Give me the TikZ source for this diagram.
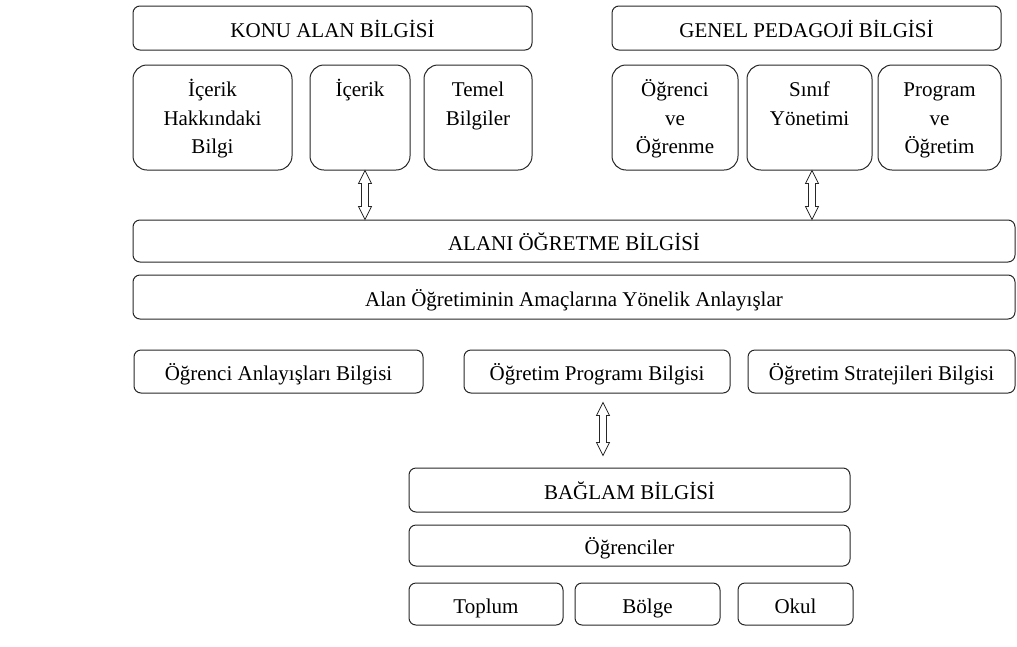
\documentclass[tikz,border=0pt]{standalone}
\usepackage{fontspec}
\setmainfont{Liberation Serif}
\usetikzlibrary{calc}
\newcommand\dblarrow[2]{%
  \draw[arrowshape] let \p1=(#1), \p2=(#2) in
    (\x1,\y1) -- (\x1+6.5pt,\y1-13pt) -- (\x1+3.5pt,\y1-13pt) -- (\x1+3.5pt,\y2+13pt)
    -- (\x1+6.5pt,\y2+13pt) -- (\x1,\y2) -- (\x1-6.5pt,\y2+13pt) -- (\x1-3.5pt,\y2+13pt)
    -- (\x1-3.5pt,\y1-13pt) -- (\x1-6.5pt,\y1-13pt) -- cycle;}
\tikzset{
  txt/.style={font=\fontsize{21}{28.5}\selectfont},
  box/.style={txt, draw=black!85, line width=1pt, rounded corners=7pt, inner sep=0pt,
    text height=18pt, text depth=0pt},
  tallbox/.style={txt, draw=black!85, line width=1pt, rounded corners=14pt, inner sep=0pt,
    minimum height=105pt},
  arrowshape/.style={draw=black!85, fill=white, line width=0.8pt, line join=miter}
}
\newcommand\toptext[2]{\parbox[c][81pt][t]{#1}{\centering\strut #2}}
\begin{document}
\begin{tikzpicture}[x=1pt,y=-1pt]
\useasboundingbox (0,0) rectangle (1017,646);
% top headers
\node[box, minimum width=399pt, minimum height=44pt] (konu) at (332.5,28) {KONU ALAN BİLGİSİ};
\node[box, minimum width=389pt, minimum height=44pt] (genel) at (806.5,28) {GENEL PEDAGOJİ BİLGİSİ};
% top sub boxes
\node[tallbox, minimum width=159pt] (ihb) at (212.5,117.5) {\toptext{150pt}{İçerik\\Hakkındaki\\Bilgi}};
\node[tallbox, minimum width=100pt] (icerik) at (360,117.5) {\toptext{92pt}{İçerik}};
\node[tallbox, minimum width=108pt] (temel) at (478,117.5) {\toptext{100pt}{Temel\\Bilgiler}};
\node[tallbox, minimum width=126pt] (ove) at (675,117.5) {\toptext{118pt}{Öğrenci\\ve\\Öğrenme}};
\node[tallbox, minimum width=125pt] (sinif) at (809.5,117.5) {\toptext{117pt}{Sınıf\\Yönetimi}};
\node[tallbox, minimum width=123pt] (prog) at (939.5,117.5) {\toptext{115pt}{Program\\ve\\Öğretim}};
% middle
\node[box, minimum width=882pt, minimum height=42pt] (alani) at (574,241) {ALANI ÖĞRETME BİLGİSİ};
\node[box, minimum width=882pt, minimum height=44pt] (alan) at (574,297) {Alan Öğretiminin Amaçlarına Yönelik Anlayışlar};
\node[box, minimum width=289pt, minimum height=43pt] (oab) at (278.5,371.5) {Öğrenci Anlayışları Bilgisi};
\node[box, minimum width=266pt, minimum height=43pt] (opb) at (597,371.5) {Öğretim Programı Bilgisi};
\node[box, minimum width=267pt, minimum height=43pt] (osb) at (881.5,371.5) {Öğretim Stratejileri Bilgisi};
% bottom
\node[box, minimum width=441pt, minimum height=44pt] (baglam) at (629.5,490) {BAĞLAM BİLGİSİ};
\node[box, minimum width=441pt, minimum height=41pt] (ogr) at (629.5,545.5) {Öğrenciler};
\node[box, minimum width=154pt, minimum height=42pt] (toplum) at (486,604) {Toplum};
\node[box, minimum width=145pt, minimum height=42pt] (bolge) at (647.5,604) {Bölge};
\node[box, minimum width=115pt, minimum height=42pt] (okul) at (795.5,604) {Okul};
% arrows
\coordinate (a1) at ($(icerik.south)+(5pt,0pt)$);
\coordinate (b1) at (a1 |- alani.north);
\dblarrow{a1}{b1}
\coordinate (a2) at ($(sinif.south)+(2.5pt,0pt)$);
\coordinate (b2) at (a2 |- alani.north);
\dblarrow{a2}{b2}
\coordinate (a3) at ($(opb.south)+(6pt,-9pt)$);
\coordinate (b3) at ($(a3 |- baglam.north)+(0pt,12pt)$);
\dblarrow{a3}{b3}
\end{tikzpicture}
\end{document}
